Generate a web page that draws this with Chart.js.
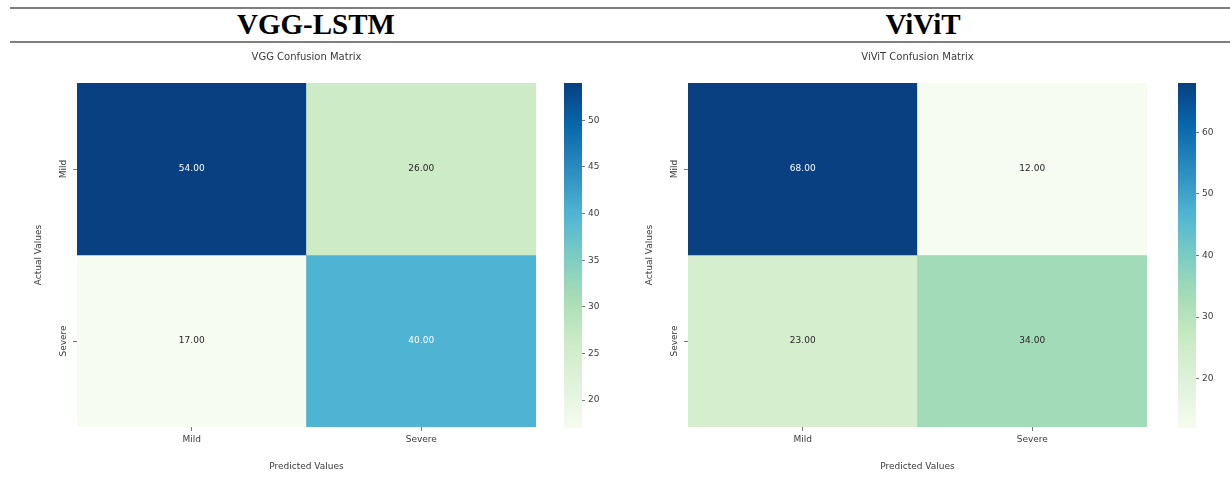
<!DOCTYPE html>
<html>
<head>
<meta charset="utf-8">
<script src="https://cdn.jsdelivr.net/npm/chart.js@4.4.1/dist/chart.umd.min.js"></script>
<style>
  html, body { margin: 0; padding: 0; background: #fff; }
  #page { position: relative; width: 1230px; height: 486px; overflow: hidden; }
  .rule { position: absolute; left: 10px; right: 0; height: 2px; background: #7f7f7f; }
  .head { position: absolute; top: 8px; height: 34px; line-height: 36px; text-align: center;
          font: bold 29px "Liberation Serif", "Times New Roman", serif; color: #000; }
  canvas { position: absolute; }
</style>
</head>
<body>
<div id="page">
  <div class="rule" style="top:7px"></div>
  <div class="rule" style="top:41px"></div>
  <div class="head" style="left:10px;width:612px">VGG-LSTM</div>
  <div class="head" style="left:616px;width:614px">ViViT</div>
  <canvas id="vggMap" width="560" height="441" style="left:0;top:45px"></canvas>
  <canvas id="vggBar" width="60" height="441" style="left:560px;top:45px"></canvas>
  <canvas id="vivitMap" width="560" height="441" style="left:611px;top:45px"></canvas>
  <canvas id="vivitBar" width="56" height="441" style="left:1174px;top:45px"></canvas>
</div>
<script>
// Class labels shared by both matrices (rows = actual, columns = predicted)
const categories = ['Mild', 'Severe'];

// VGG-LSTM confusion matrix rows
const vggMild = [54, 26];
const vggSevere = [17, 40];

// ViViT confusion matrix rows
const vivitMild = [68, 12];
const vivitSevere = [23, 34];

// Colour-bar tick values
const vggBarTicks = [20, 25, 30, 35, 40, 45, 50];
const vivitBarTicks = [20, 30, 40, 50, 60];

const FONT = '"DejaVu Sans", "Liberation Sans", sans-serif';
const TEXT = '#3a3a3a';

// GnBu colour map stops
const GNBU = ['#f7fcf0', '#e0f3db', '#ccebc5', '#a8ddb5', '#7bccc4',
              '#4eb3d3', '#2b8cbe', '#0868ac', '#084081'];

function hexRgb(h) {
  return [1, 3, 5].map(i => parseInt(h.slice(i, i + 2), 16));
}
function gnbu(t) {
  t = Math.max(0, Math.min(1, t));
  const p = t * (GNBU.length - 1);
  const i = Math.min(Math.floor(p), GNBU.length - 2);
  const f = p - i;
  const a = hexRgb(GNBU[i]), b = hexRgb(GNBU[i + 1]);
  const c = a.map((v, k) => Math.round(v + (b[k] - v) * f));
  return `rgb(${c[0]},${c[1]},${c[2]})`;
}
function luminance(rgb) {
  const c = rgb.match(/\d+/g).map(Number).map(v => {
    v /= 255;
    return v <= 0.03928 ? v / 12.92 : Math.pow((v + 0.055) / 1.055, 2.4);
  });
  return 0.2126 * c[0] + 0.7152 * c[1] + 0.0722 * c[2];
}

// Writes each cell's count and the rotated row labels
const cellLabels = {
  id: 'cellLabels',
  afterDatasetsDraw(chart) {
    const ctx = chart.ctx;
    ctx.save();
    ctx.font = `9px ${FONT}`;
    ctx.textAlign = 'center';
    ctx.textBaseline = 'middle';
    chart.data.datasets.forEach((ds, di) => {
      chart.getDatasetMeta(di).data.forEach((bar, i) => {
        const { x, y, base } = bar.getProps(['x', 'y', 'base'], true);
        ctx.fillStyle = luminance(ds.backgroundColor[i]) < 0.408 ? '#ffffff' : '#262626';
        ctx.fillText(ds.values[i].toFixed(2), x, (y + base) / 2);
      });
    });
    const ys = chart.scales.y;
    ctx.fillStyle = TEXT;
    categories.forEach((c, i) => {
      ctx.save();
      ctx.translate(chart.chartArea.left - 13, ys.getPixelForValue(i + 0.5));
      ctx.rotate(-Math.PI / 2);
      ctx.fillText(c, 0, 0);
      ctx.restore();
    });
    ctx.restore();
  }
};

function heatmap(id, title, rows) {
  const flat = rows.flat();
  const lo = Math.min(...flat), hi = Math.max(...flat);
  const datasets = rows.map((vals, r) => ({
    data: vals.map(() => [r, r + 1]),
    values: vals,
    backgroundColor: vals.map(v => gnbu((v - lo) / (hi - lo))),
    borderWidth: 0,
    barPercentage: 1,
    categoryPercentage: 1,
    grouped: false
  }));
  new Chart(document.getElementById(id), {
    type: 'bar',
    data: { labels: categories, datasets },
    options: {
      responsive: false,
      animation: false,
      layout: { padding: { right: 24 } },
      plugins: {
        legend: { display: false },
        tooltip: { enabled: false },
        title: {
          display: true, text: title, fullSize: false, color: TEXT,
          font: { family: FONT, size: 10, weight: 'normal' },
          padding: { top: 6, bottom: 20 }
        }
      },
      scales: {
        x: {
          grid: { offset: false, drawOnChartArea: false, tickLength: 4, color: '#777' },
          border: { display: false },
          ticks: { color: TEXT, font: { family: FONT, size: 9 }, padding: 3 },
          title: { display: true, text: 'Predicted Values', color: TEXT,
                   font: { family: FONT, size: 9 }, padding: { top: 0, bottom: 14 } },
          afterFit: s => { s.height = 59; }
        },
        y: {
          min: 0, max: 2, reverse: true,
          afterBuildTicks: s => { s.ticks = categories.map((c, i) => ({ value: i + 0.5 })); },
          ticks: { display: false },
          grid: { drawOnChartArea: false, tickLength: 4, color: '#777' },
          border: { display: false },
          title: { display: true, text: 'Actual Values', color: TEXT,
                   font: { family: FONT, size: 9 }, padding: { top: 33, bottom: 0 } },
          afterFit: s => { s.width = 77; }
        }
      }
    },
    plugins: [cellLabels]
  });
}

function colorbar(id, rows, tickVals, axisWidth) {
  const flat = rows.flat();
  const lo = Math.min(...flat), hi = Math.max(...flat);
  new Chart(document.getElementById(id), {
    type: 'bar',
    data: {
      labels: [''],
      datasets: [{
        data: [[lo, hi]],
        backgroundColor: ctx => {
          const a = ctx.chart.chartArea;
          if (!a) return GNBU[0];
          const g = ctx.chart.ctx.createLinearGradient(0, a.bottom, 0, a.top);
          GNBU.forEach((c, i) => g.addColorStop(i / (GNBU.length - 1), c));
          return g;
        },
        borderWidth: 0,
        barPercentage: 1,
        categoryPercentage: 1
      }]
    },
    options: {
      responsive: false,
      animation: false,
      layout: { padding: { left: 4, top: 38, bottom: 58 } },
      plugins: { legend: { display: false }, tooltip: { enabled: false } },
      scales: {
        x: { display: false },
        y: {
          position: 'right', min: lo, max: hi,
          afterBuildTicks: s => { s.ticks = tickVals.map(v => ({ value: v })); },
          grid: { drawOnChartArea: false, tickLength: 3, color: '#777' },
          border: { display: false },
          ticks: { color: TEXT, font: { family: FONT, size: 9 }, padding: 3 },
          afterFit: s => { s.width = axisWidth; }
        }
      }
    }
  });
}

heatmap('vggMap', 'VGG Confusion Matrix', [vggMild, vggSevere]);
colorbar('vggBar', [vggMild, vggSevere], vggBarTicks, 38);
heatmap('vivitMap', 'ViViT Confusion Matrix', [vivitMild, vivitSevere]);
colorbar('vivitBar', [vivitMild, vivitSevere], vivitBarTicks, 34);
</script>
</body>
</html>
